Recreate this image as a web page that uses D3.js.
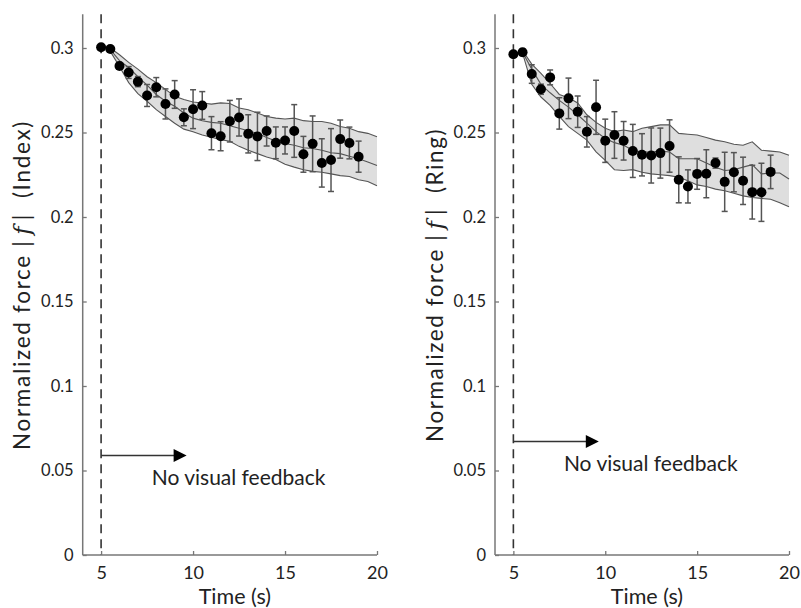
<!DOCTYPE html>
<html><head><meta charset="utf-8">
<script src="https://cdn.jsdelivr.net/npm/d3@7"></script>
<style>
body{margin:0;background:#fff;}
svg{display:block;}
text{font-family:Lato,"Open Sans",sans-serif;fill:#222;}
</style></head>
<body>
<svg id="chart" width="801" height="608"></svg>
<script>
// ---- data ----
const dotTimes = [5,5.5,6,6.5,7,7.5,8,8.5,9,9.5,10,10.5,11,11.5,12,12.5,13,13.5,14,14.5,15,15.5,16,16.5,17,17.5,18,18.5,19];
const indexMeans = [0.3004,0.2994,0.2894,0.2855,0.2801,0.2719,0.2768,0.2669,0.2725,0.2590,0.2638,0.2660,0.2496,0.2478,0.2567,0.2589,0.2492,0.2477,0.2509,0.2439,0.2453,0.2509,0.2371,0.2433,0.2320,0.2337,0.2461,0.2438,0.2357];
const indexErr = [0.001,0.0015,0.002,0.0035,0.003,0.0065,0.0057,0.0089,0.0082,0.005,0.0115,0.0082,0.0098,0.0086,0.0123,0.011,0.0113,0.0143,0.0089,0.0094,0.008,0.0156,0.0106,0.0165,0.0143,0.0186,0.0113,0.0094,0.0092];
const ringMeans = [0.2963,0.2975,0.2846,0.2756,0.2826,0.2613,0.2702,0.2623,0.2504,0.2649,0.2451,0.2485,0.2451,0.2391,0.2368,0.2364,0.2378,0.2420,0.2220,0.2181,0.2255,0.2256,0.2319,0.2208,0.2265,0.2214,0.2147,0.2146,0.2267];
const ringErr = [0.001,0.002,0.0055,0.003,0.0044,0.0093,0.012,0.0093,0.009,0.016,0.0128,0.0138,0.0114,0.0157,0.0125,0.0163,0.0148,0.0155,0.0136,0.0098,0.0091,0.0142,0.003,0.0175,0.0116,0.014,0.0159,0.0172,0.0099];

const bandTimes = [5.5,6,6.5,7,7.5,8,8.5,9,9.5,10,10.5,11,11.5,12,12.5,13,13.5,14,14.5,15,15.5,16,16.5,17,17.5,18,18.5,19,19.5,20];
const indexUpper = [0.300,0.296,0.2915,0.2875,0.283,0.2795,0.2755,0.2715,0.2695,0.268,0.2675,0.2668,0.2675,0.2672,0.2645,0.2635,0.2615,0.2595,0.2585,0.258,0.2585,0.257,0.2565,0.2565,0.2555,0.2535,0.2525,0.2505,0.2495,0.2475];
const indexMid   = [0.299,0.2925,0.2885,0.283,0.278,0.2725,0.2685,0.2655,0.2615,0.2585,0.257,0.256,0.2555,0.254,0.2525,0.251,0.2495,0.247,0.245,0.2435,0.2425,0.241,0.2405,0.2395,0.238,0.2375,0.236,0.2345,0.2325,0.2305];
const indexLower = [0.298,0.289,0.2795,0.273,0.2685,0.2635,0.2595,0.2555,0.252,0.2505,0.2485,0.2472,0.2458,0.2448,0.2418,0.2395,0.2375,0.2355,0.234,0.2312,0.2295,0.228,0.227,0.2265,0.2255,0.2245,0.224,0.222,0.221,0.2185];
const ringUpper = [0.2985,0.2905,0.285,0.279,0.2725,0.2705,0.2675,0.2605,0.256,0.2525,0.2505,0.2515,0.2505,0.2525,0.2535,0.2545,0.2545,0.2495,0.249,0.2485,0.247,0.2455,0.2445,0.243,0.2425,0.2445,0.2395,0.239,0.2385,0.2365];
const ringMid   = [0.2975,0.2875,0.2785,0.2735,0.269,0.265,0.2605,0.2555,0.2505,0.2465,0.244,0.2425,0.2395,0.2385,0.2385,0.239,0.2385,0.2345,0.2345,0.2345,0.232,0.2295,0.2275,0.228,0.2295,0.231,0.2255,0.226,0.226,0.2225];
const ringLower = [0.297,0.2785,0.271,0.266,0.2595,0.2535,0.2495,0.2455,0.2385,0.2335,0.228,0.2275,0.228,0.2265,0.2255,0.225,0.2245,0.2235,0.2215,0.219,0.218,0.2165,0.2155,0.214,0.2125,0.2115,0.211,0.2105,0.2085,0.206];

const xTicks = [5,10,15,20];
const yTicks = [0,0.05,0.1,0.15,0.2,0.25,0.3];
const yTickLabels = ["0","0.05","0.1","0.15","0.2","0.25","0.3"];
const arrowStart = 5, arrowEnd = 9.65;

const panels = [
  {name:"Index", means:indexMeans, err:indexErr, upper:indexUpper, mid:indexMid, lower:indexLower,
   x0:82.7, x1:377, arrowY:0.0589, titleX:30, titleLen:330},
  {name:"Ring", means:ringMeans, err:ringErr, upper:ringUpper, mid:ringMid, lower:ringLower,
   x0:495, x1:789, arrowY:0.0672, titleX:443, titleLen:314}
];

const svg = d3.select("#chart");
const yTop = 14.2, yBottom = 555;

panels.forEach(p => {
  const x = d3.scaleLinear().domain([4,20]).range([p.x0, p.x1]);
  const y = d3.scaleLinear().domain([0,0.32]).range([yBottom, yTop]);
  const g = svg.append("g");

  // band
  const bandData = bandTimes.map((t,i)=>({t, u:p.upper[i], m:p.mid[i], l:p.lower[i]}));
  g.append("path").datum(bandData)
    .attr("d", d3.area().x(d=>x(d.t)).y0(d=>y(d.l)).y1(d=>y(d.u)))
    .attr("fill","#dedede").attr("stroke","none");
  ["u","m","l"].forEach(k=>{
    g.append("path").datum(bandData)
      .attr("d", d3.line().x(d=>x(d.t)).y(d=>y(d[k])))
      .attr("fill","none").attr("stroke","#555").attr("stroke-width",1.1);
  });

  // dashed line
  g.append("line").attr("x1",x(5)).attr("x2",x(5)).attr("y1",yTop).attr("y2",yBottom)
    .attr("stroke","#333").attr("stroke-width",1.6).attr("stroke-dasharray","9,6");

  // axes
  const xa = g.append("g").attr("transform",`translate(0,${yBottom})`)
    .call(d3.axisBottom(x).tickValues(xTicks).tickSizeInner(-4).tickSizeOuter(0).tickPadding(11));
  const ya = g.append("g").attr("transform",`translate(${p.x0},0)`)
    .call(d3.axisLeft(y).tickValues(yTicks).tickFormat((d,i)=>yTickLabels[i]).tickSizeInner(-4).tickSizeOuter(0).tickPadding(9));
  [xa,ya].forEach(a=>{
    a.select(".domain").attr("stroke","#777").attr("stroke-width",1.5);
    a.selectAll(".tick line").attr("stroke","#777").attr("stroke-width",1.3);
    a.selectAll(".tick text").style("font-family","Lato, sans-serif").attr("fill","#222");
  });
  xa.selectAll(".tick text").style("font-size","18px");
  ya.selectAll(".tick text").style("font-size","16.5px");
  ya.select(".domain").attr("d",`M0,${yTop}V${yBottom}`);
  xa.select(".domain").attr("d",`M${p.x0},0H${p.x1}`);

  // error bars
  const pts = dotTimes.map((t,i)=>({t, v:p.means[i], e:p.err[i]}));
  const eb = g.append("g").attr("stroke","#555").attr("stroke-width",1.5);
  pts.forEach(d=>{
    eb.append("line").attr("x1",x(d.t)).attr("x2",x(d.t)).attr("y1",y(d.v-d.e)).attr("y2",y(d.v+d.e));
    [d.v-d.e,d.v+d.e].forEach(vv=>{
      eb.append("line").attr("x1",x(d.t)-3).attr("x2",x(d.t)+3).attr("y1",y(vv)).attr("y2",y(vv));
    });
  });
  g.append("g").selectAll("circle").data(pts).join("circle")
    .attr("cx",d=>x(d.t)).attr("cy",d=>y(d.v)).attr("r",5).attr("fill","#000");

  // arrow
  const ay = y(p.arrowY);
  g.append("line").attr("x1",x(arrowStart)).attr("x2",x(arrowEnd)-12).attr("y1",ay).attr("y2",ay)
    .attr("stroke","#333").attr("stroke-width",1.5);
  const tip = x(arrowEnd);
  g.append("path").attr("d",`M${tip},${ay}L${tip-13},${ay-6.5}L${tip-13},${ay+6.5}Z`).attr("fill","#000");
  g.append("text").attr("x",x(7.75)).attr("y",ay+30).style("font-size","21px").text("No visual feedback");

  // x title
  g.append("text").attr("x",(x(4)+x(20))/2+5).attr("y",604).attr("text-anchor","middle")
    .style("font-size","21.5px").text("Time (s)");

  // y title
  const yt = g.append("text").attr("transform",`translate(${p.titleX},285) rotate(-90)`)
    .attr("text-anchor","middle").style("font-size","22.5px");
  yt.append("tspan").text("Normalized force |\u2009");
  yt.append("tspan").style("font-family","'DejaVu Serif', serif").style("font-style","italic").text("f");
  yt.append("tspan").text("\u2009|\u00A0\u00A0(" + p.name + ")");
  const L = yt.node().getComputedTextLength();
  const n = yt.text().length;
  const ls = Math.max(0, Math.min(2, (p.titleLen - L) / n));
  yt.style("letter-spacing", ls + "px");
});
</script>
</body></html>
